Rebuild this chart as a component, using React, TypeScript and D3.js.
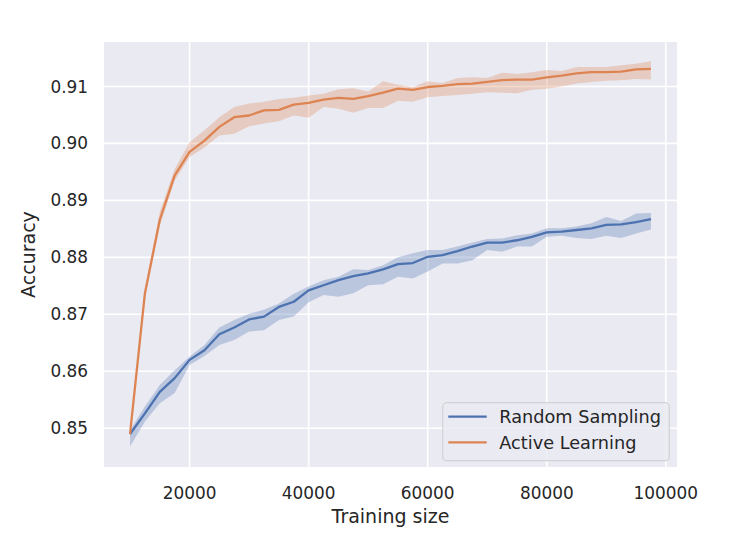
import React from 'react';
import * as d3 from 'd3';

// training sizes used in the experiment
const sizes = [
  10000, 12500, 15000, 17500, 20000, 22500, 25000, 27500, 30000, 32500,
  35000, 37500, 40000, 42500, 45000, 47500, 50000, 52500, 55000, 57500,
  60000, 62500, 65000, 67500, 70000, 72500, 75000, 77500, 80000, 82500,
  85000, 87500, 90000, 92500, 95000, 97500,
];

const randomMean = [
  0.8490, 0.8526, 0.8564, 0.8588, 0.8620, 0.8637, 0.8665, 0.8677, 0.8691, 0.8696,
  0.8713, 0.8722, 0.8742, 0.8751, 0.8760, 0.8767, 0.8772, 0.8779, 0.8788, 0.8790,
  0.8801, 0.8804, 0.8811, 0.8819, 0.8826, 0.8826, 0.8830, 0.8836, 0.8844, 0.8845,
  0.8848, 0.8851, 0.8857, 0.8858, 0.8862, 0.8867,
];
const randomLow = [
  0.8468, 0.8512, 0.8544, 0.8562, 0.8611, 0.8627, 0.8646, 0.8655, 0.8670, 0.8672,
  0.8690, 0.8696, 0.8721, 0.8734, 0.8731, 0.8737, 0.8751, 0.8753, 0.8766, 0.8763,
  0.8775, 0.8789, 0.8789, 0.8795, 0.8813, 0.8810, 0.8819, 0.8819, 0.8836, 0.8838,
  0.8834, 0.8832, 0.8838, 0.8834, 0.8842, 0.8849,
];
const randomHigh = [
  0.8497, 0.8538, 0.8576, 0.8602, 0.8626, 0.8646, 0.8677, 0.8690, 0.8701, 0.8708,
  0.8719, 0.8736, 0.8749, 0.8760, 0.8766, 0.8779, 0.8778, 0.8786, 0.8800, 0.8807,
  0.8813, 0.8813, 0.8819, 0.8826, 0.8832, 0.8833, 0.8839, 0.8842, 0.8851, 0.8851,
  0.8854, 0.8860, 0.8871, 0.8864, 0.8877, 0.8878,
];

const activeMean = [
  0.8490, 0.8737, 0.8866, 0.8944, 0.8985, 0.9005, 0.9029, 0.9046, 0.9049, 0.9058,
  0.9059, 0.9068, 0.9071, 0.9077, 0.9080, 0.9078, 0.9083, 0.9089, 0.9096, 0.9094,
  0.9099, 0.9101, 0.9104, 0.9105, 0.9108, 0.9111, 0.9112, 0.9112, 0.9116, 0.9119,
  0.9123, 0.9125, 0.9125, 0.9126, 0.9130, 0.9131,
];
const activeLow = [
  0.8483, 0.8728, 0.8855, 0.8935, 0.8976, 0.8993, 0.9014, 0.9017, 0.9030, 0.9035,
  0.9039, 0.9049, 0.9045, 0.9064, 0.9061, 0.9054, 0.9062, 0.9062, 0.9075, 0.9073,
  0.9081, 0.9083, 0.9085, 0.9087, 0.9090, 0.9089, 0.9088, 0.9094, 0.9096, 0.9100,
  0.9105, 0.9108, 0.9110, 0.9111, 0.9113, 0.9112,
];
const activeHigh = [
  0.8495, 0.8745, 0.8880, 0.8955, 0.9002, 0.9023, 0.9046, 0.9064, 0.9070, 0.9073,
  0.9078, 0.9080, 0.9084, 0.9087, 0.9095, 0.9097, 0.9091, 0.9109, 0.9103, 0.9099,
  0.9109, 0.9106, 0.9115, 0.9116, 0.9115, 0.9124, 0.9122, 0.9125, 0.9129, 0.9127,
  0.9134, 0.9134, 0.9134, 0.9137, 0.9140, 0.9144,
];

const xTicks = [20000, 40000, 60000, 80000, 100000];
const yTicks = [0.85, 0.86, 0.87, 0.88, 0.89, 0.90, 0.91];

const series = [
  { name: 'Random Sampling', color: '#4c72b0', mean: randomMean, low: randomLow, high: randomHigh },
  { name: 'Active Learning', color: '#dd8452', mean: activeMean, low: activeLow, high: activeHigh },
];

const W = 752;
const H = 542;
const plot = { left: 104, right: 677, top: 42, bottom: 467 };
const font = 'DejaVu Sans, sans-serif';
const ink = '#262626';

export default function App() {
  const x = d3.scaleLinear().domain([5625, 101875]).range([plot.left, plot.right]);
  const y = d3.scaleLinear().domain([0.8432, 0.9178]).range([plot.bottom, plot.top]);

  const line = d3.line<number>()
    .x((_, i) => x(sizes[i]))
    .y(d => y(d));

  const band = (low: number[], high: number[]) =>
    d3.area<number>()
      .x((_, i) => x(sizes[i]))
      .y0((_, i) => y(low[i]))
      .y1((_, i) => y(high[i]))(sizes) || '';

  return (
    <svg width={W} height={H} style={{ position: 'absolute', left: 0, top: 0, background: '#fff' }}>
      <rect x={plot.left} y={plot.top} width={plot.right - plot.left} height={plot.bottom - plot.top} fill="#eaeaf2" />

      {/* grid */}
      {xTicks.map(t => (
        <line key={'gx' + t} x1={x(t)} x2={x(t)} y1={plot.top} y2={plot.bottom} stroke="#fff" strokeWidth={1.6} />
      ))}
      {yTicks.map(t => (
        <line key={'gy' + t} x1={plot.left} x2={plot.right} y1={y(t)} y2={y(t)} stroke="#fff" strokeWidth={1.6} />
      ))}

      {/* confidence bands + lines */}
      {series.map(s => (
        <path key={'b' + s.name} d={band(s.low, s.high)} fill={s.color} fillOpacity={0.3} stroke="none" />
      ))}
      {series.map(s => (
        <path key={'l' + s.name} d={line(s.mean) || ''} fill="none" stroke={s.color} strokeWidth={2.3} strokeLinejoin="round" />
      ))}

      {/* tick labels */}
      {xTicks.map(t => (
        <text key={'tx' + t} x={x(t)} y={499} textAnchor="middle" fontFamily={font} fontSize={16.9} fill={ink}>
          {t}
        </text>
      ))}
      {yTicks.map(t => (
        <text key={'ty' + t} x={88} y={y(t)} dy="0.36em" textAnchor="end" fontFamily={font} fontSize={16.9} fill={ink}>
          {d3.format('.2f')(t)}
        </text>
      ))}

      {/* axis labels */}
      <text x={(plot.left + plot.right) / 2} y={523} textAnchor="middle" fontFamily={font} fontSize={19} fill={ink}>
        Training size
      </text>
      <text transform={`translate(35,${(plot.top + plot.bottom) / 2}) rotate(-90)`} textAnchor="middle" fontFamily={font} fontSize={19} fill={ink}>
        Accuracy
      </text>

      {/* legend */}
      <rect x={442.7} y={402.7} width={226.6} height={58} rx={4} fill="#eaeaf2" fillOpacity={0.8} stroke="#cccccc" strokeOpacity={0.8} strokeWidth={1.2} />
      {series.map((s, i) => (
        <g key={'lg' + s.name} transform={`translate(0,${416.7 + i * 25.6})`}>
          <line x1={448.3} x2={486.7} y1={0} y2={0} stroke={s.color} strokeWidth={2.3} />
          <text x={499.3} y={0} dy="0.36em" fontFamily={font} fontSize={17.7} fill={ink}>
            {s.name}
          </text>
        </g>
      ))}
    </svg>
  );
}
